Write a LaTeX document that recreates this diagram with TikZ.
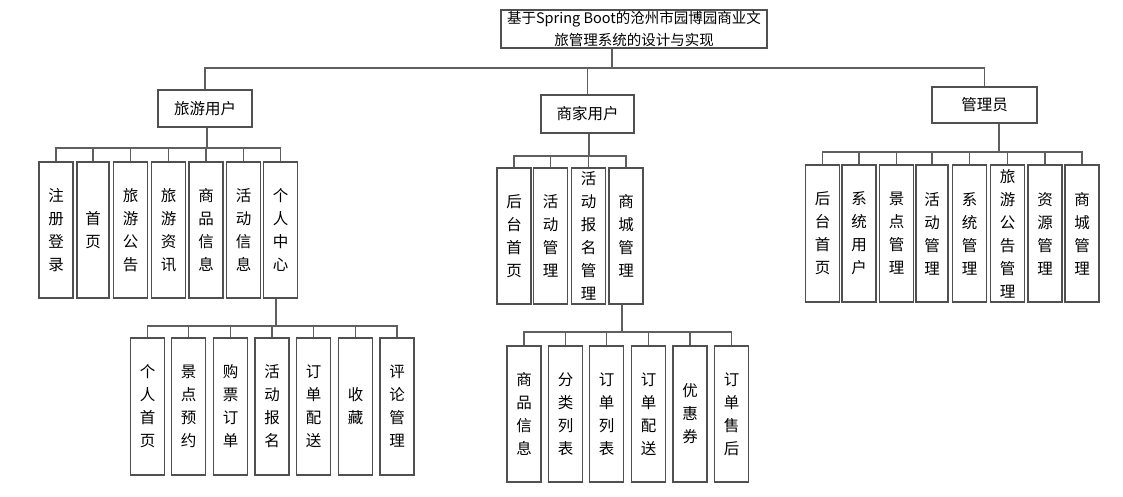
\documentclass[tikz,border=0pt]{standalone}
\usepackage{fontspec}
\setmainfont{Noto Sans CJK SC}
\newfontfamily\cjk{Noto Sans CJK SC}
\definecolor{linec}{RGB}{95,95,95}
\definecolor{boxc}{RGB}{80,80,80}
\tikzset{
  conn/.style={draw=linec, line width=1.2pt},
  leaf/.style={draw=boxc, line width=1.2pt, minimum width=34pt, minimum height=136pt, inner sep=0pt, align=center,
    font=\cjk\fontsize{15.5pt}{23pt}\selectfont},
  head/.style={draw=boxc, line width=1.2pt, inner sep=0pt, align=center,
    font=\cjk\fontsize{15.5pt}{18pt}\selectfont},
  titlebox/.style={draw=boxc, line width=1.2pt, minimum width=266pt, minimum height=38pt, inner sep=0pt, align=center,
    font=\cjk\fontsize{14.5pt}{21.5pt}\selectfont}
}
\begin{document}
\begin{tikzpicture}[x=1pt,y=-1pt]
\useasboundingbox (0,0) rectangle (1123,497);
% title
\node[titlebox] (title) at (634,29) {基于Spring Boot的沧州市园博园商业文\\旅管理系统的设计与实现};
\coordinate (top0) at (612,68);
% group heads
\node[head, minimum width=94pt, minimum height=37pt] (g1) at (205,108.5) {旅游用户};
\node[head, minimum width=93pt, minimum height=38pt] (g2) at (587.5,114) {商家用户};
\node[head, minimum width=105pt, minimum height=36pt] (g3) at (984.5,105) {管理员};
\draw[conn] (top0 |- title.south) -- (top0);
\draw[conn] (g1.north) |- (top0);
\draw[conn] (g2.north) |- (top0);
\draw[conn] (g3.north) |- (top0);

% tourist user row
\node[leaf] (a1) at (56,230) {注\\册\\登\\录};
\node[leaf, minimum width=32pt] (a2) at (93,230) {首\\页};
\node[leaf] (a3) at (130.5,230) {旅\\游\\公\\告};
\node[leaf] (a4) at (168.5,230) {旅\\游\\资\\讯};
\node[leaf] (a5) at (206,230) {商\\品\\信\\息};
\node[leaf] (a6) at (243.5,230) {活\\动\\信\\息};
\node[leaf] (a7) at (280.5,230) {个\\人\\中\\心};
\coordinate (b1) at (207,148);
\draw[conn] (b1 |- g1.south) -- (b1);
\foreach \n in {a1,a2,a3,a4,a5,a6,a7} \draw[conn] (\n.north) |- (b1);

% personal center row
\node[leaf, minimum height=137pt] (p1) at (147.5,406.5) {个\\人\\首\\页};
\node[leaf, minimum height=137pt] (p2) at (188.5,406.5) {景\\点\\预\\约};
\node[leaf, minimum height=137pt] (p3) at (230.5,406.5) {购\\票\\订\\单};
\node[leaf, minimum height=137pt] (p4) at (272,406.5) {活\\动\\报\\名};
\node[leaf, minimum height=137pt] (p5) at (313.5,406.5) {订\\单\\配\\送};
\node[leaf, minimum height=137pt] (p6) at (355.5,406.5) {收\\藏};
\node[leaf, minimum height=137pt] (p7) at (397,406.5) {评\\论\\管\\理};
\coordinate (b2) at (276,326);
\draw[conn] (b2 |- a7.south) -- (b2);
\foreach \n in {p1,p2,p3,p4,p5,p6,p7} \draw[conn] (\n.north) |- (b2);

% merchant row
\node[leaf] (m1) at (514,236) {后\\台\\首\\页};
\node[leaf] (m2) at (550.5,236) {活\\动\\管\\理};
\node[leaf] (m3) at (588.5,236) {活\\动\\报\\名\\管\\理};
\node[leaf] (m4) at (626,236) {商\\城\\管\\理};
\coordinate (b3) at (589,156);
\draw[conn] (b3 |- g2.south) -- (b3);
\foreach \n in {m1,m2,m3,m4} \draw[conn] (\n.north) |- (b3);

% mall management row
\node[leaf] (s1) at (524,414) {商\\品\\信\\息};
\node[leaf] (s2) at (565.5,414) {分\\类\\列\\表};
\node[leaf] (s3) at (606.5,414) {订\\单\\列\\表};
\node[leaf] (s4) at (648.5,414) {订\\单\\配\\送};
\node[leaf] (s5) at (690,414) {优\\惠\\券};
\node[leaf] (s6) at (731.5,414) {订\\单\\售\\后};
\coordinate (b4) at (622,332);
\draw[conn] (b4 |- m4.south) -- (b4);
\foreach \n in {s1,s2,s3,s4,s5,s6} \draw[conn] (\n.north) |- (b4);

% admin row
\node[leaf, minimum height=137pt] (d1) at (822.5,233.5) {后\\台\\首\\页};
\node[leaf, minimum height=137pt] (d2) at (859,233.5) {系\\统\\用\\户};
\node[leaf, minimum height=137pt] (d3) at (896.5,233.5) {景\\点\\管\\理};
\node[leaf, minimum height=137pt, minimum width=32pt] (d4) at (932,233.5) {活\\动\\管\\理};
\node[leaf, minimum height=137pt] (d5) at (969.5,233.5) {系\\统\\管\\理};
\node[leaf, minimum height=137pt] (d6) at (1007.5,233.5) {旅\\游\\公\\告\\管\\理};
\node[leaf, minimum height=137pt] (d7) at (1045,233.5) {资\\源\\管\\理};
\node[leaf, minimum height=137pt] (d8) at (1082,233.5) {商\\城\\管\\理};
\coordinate (b5) at (999,152);
\draw[conn] (b5 |- g3.south) -- (b5);
\foreach \n in {d1,d2,d3,d4,d5,d6,d7,d8} \draw[conn] (\n.north) |- (b5);
\end{tikzpicture}
\end{document}
